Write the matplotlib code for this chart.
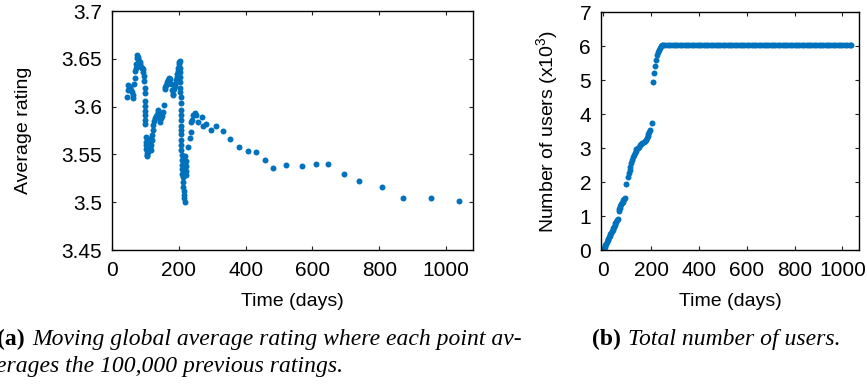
import matplotlib
matplotlib.use("Agg")
import matplotlib.pyplot as plt

plt.rcParams['font.family'] = ['Liberation Sans', 'DejaVu Sans']
plt.rcParams['mathtext.default'] = 'regular'

BLUE = '#0072BD'

# (a) moving global average rating
days_a = [44, 47, 49, 51, 54, 57, 59, 62, 64, 66, 68, 69, 71, 72, 74, 75, 77, 79,
          81, 83, 85, 87, 89, 91, 93, 94, 96, 97, 98, 98, 99, 99, 99, 100, 100, 100,
          101, 101, 102, 103, 104, 105, 106, 107, 108, 109, 110, 112, 114, 116, 118,
          119, 121, 123, 124, 126, 128, 131, 134, 137, 139, 141, 143, 145, 147, 149,
          152, 155, 158, 160, 163, 166, 169, 172, 175, 177, 179, 182, 184, 186, 188,
          190, 192, 194, 196, 198, 199, 200, 202, 203, 204, 204, 204, 205, 205, 205,
          206, 206, 206, 206, 206, 207, 207, 207, 208, 208, 208, 209, 209, 210, 210,
          211, 212, 213, 214, 215, 216, 217, 218, 220, 221, 222, 222, 223, 229, 233,
          236, 238, 241, 244, 249, 253, 259, 269, 273, 283, 298, 313, 331, 353, 381,
          407, 430, 458, 481, 520, 570, 611, 645, 693, 738, 807, 871, 956, 1037]
rating_a = [3.610, 3.618, 3.623, 3.619, 3.621, 3.617, 3.615, 3.612, 3.609, 3.624,
            3.630, 3.637, 3.641, 3.645, 3.651, 3.654, 3.652, 3.650, 3.648, 3.647,
            3.645, 3.642, 3.641, 3.640, 3.639, 3.636, 3.632, 3.627, 3.620, 3.614,
            3.606, 3.601, 3.596, 3.591, 3.586, 3.582, 3.568, 3.563, 3.560, 3.556,
            3.552, 3.549, 3.548, 3.553, 3.557, 3.562, 3.566, 3.563, 3.558, 3.555,
            3.560, 3.565, 3.570, 3.576, 3.581, 3.585, 3.588, 3.590, 3.591, 3.594,
            3.597, 3.592, 3.587, 3.584, 3.588, 3.590, 3.594, 3.602, 3.619, 3.621,
            3.623, 3.626, 3.628, 3.630, 3.629, 3.624, 3.617, 3.613, 3.612, 3.619,
            3.624, 3.622, 3.628, 3.631, 3.634, 3.637, 3.641, 3.645, 3.647, 3.648,
            3.641, 3.636, 3.631, 3.626, 3.620, 3.615, 3.610, 3.604, 3.597, 3.591,
            3.586, 3.580, 3.576, 3.571, 3.565, 3.560, 3.555, 3.549, 3.544, 3.539,
            3.535, 3.530, 3.526, 3.521, 3.516, 3.512, 3.508, 3.504, 3.500, 3.548,
            3.543, 3.538, 3.533, 3.529, 3.558, 3.567, 3.574, 3.584, 3.586, 3.591,
            3.593, 3.591, 3.584, 3.589, 3.580, 3.582, 3.576, 3.580, 3.575, 3.566,
            3.558, 3.554, 3.553, 3.544, 3.536, 3.539, 3.538, 3.540, 3.540, 3.530,
            3.522, 3.516, 3.504, 3.504, 3.501]

# (b) total number of users (x10^3)
days_b = [0, 3, 6, 9, 12, 15, 18, 21, 24, 27, 30, 33, 36, 39, 42, 45, 48, 51, 54,
          57, 60, 64, 66, 69, 72, 75, 78, 81, 84, 87, 90, 96, 103, 106, 110, 113,
          117, 120, 124, 127, 131, 135, 139, 144, 149, 154, 159, 164, 169, 174, 179,
          183, 186, 189, 192, 195, 203, 207, 211, 216, 220, 224, 228, 232, 236, 240,
          245]
users_b = [0.00, 0.05, 0.10, 0.14, 0.19, 0.23, 0.28, 0.32, 0.37, 0.41, 0.46, 0.50,
           0.55, 0.59, 0.64, 0.68, 0.73, 0.78, 0.82, 0.87, 0.92, 1.15, 1.20, 1.25,
           1.30, 1.34, 1.38, 1.42, 1.46, 1.50, 1.53, 1.93, 2.16, 2.27, 2.36, 2.45,
           2.55, 2.64, 2.73, 2.80, 2.86, 2.91, 2.96, 3.00, 3.04, 3.08, 3.11, 3.14,
           3.18, 3.21, 3.25, 3.30, 3.35, 3.41, 3.47, 3.52, 3.74, 4.95, 5.20, 5.42,
           5.58, 5.73, 5.81, 5.89, 5.95, 5.99, 6.02]
plateau_days = [250, 260, 270, 280, 290, 300, 310, 320, 330, 340, 350, 360, 370,
                380, 390, 400, 410, 420, 430, 440, 450, 460, 470, 480, 490, 500,
                510, 520, 530, 540, 550, 560, 570, 580, 590, 600, 610, 620, 630,
                640, 650, 660, 670, 680, 690, 700, 710, 720, 730, 740, 750, 760,
                770, 780, 790, 800, 810, 820, 830, 840, 850, 860, 870, 880, 890,
                900, 910, 920, 930, 940, 950, 960, 970, 980, 990, 1000, 1010, 1020,
                1030, 1035]
plateau_users = 6.03

fig = plt.figure(figsize=(8.67, 3.85), dpi=100)
ax1 = fig.add_axes([0.129, 0.3506, 0.4165, 0.6204])
ax2 = fig.add_axes([0.693, 0.3506, 0.298, 0.6182])

ax1.plot(days_a, rating_a, 'o', color=BLUE, markersize=4.3, markeredgewidth=0)
ax1.set_xlim(0, 1080)
ax1.set_ylim(3.45, 3.7)
ax1.set_xticks([0, 200, 400, 600, 800, 1000])
ax1.set_yticks([3.45, 3.5, 3.55, 3.6, 3.65, 3.7])
ax1.set_yticklabels(['3.45', '3.5', '3.55', '3.6', '3.65', '3.7'])
ax1.set_xlabel('Time (days)', fontsize=14, labelpad=9)
ax1.set_ylabel('Average rating', fontsize=14, labelpad=21)

ax2.plot(days_b, users_b, 'o', color=BLUE, markersize=4.3, markeredgewidth=0)
ax2.plot(plateau_days, [plateau_users] * len(plateau_days), 'o', color=BLUE,
         markersize=4.3, markeredgewidth=0)
ax2.set_xlim(-10, 1070)
ax2.set_ylim(0, 7)
ax2.set_xticks([0, 200, 400, 600, 800, 1000])
ax2.set_yticks(range(0, 8))
ax2.set_xlabel('Time (days)', fontsize=14, labelpad=9)
ax2.set_ylabel('Number of users (x10$^3$)', fontsize=14, labelpad=14)

for ax in (ax1, ax2):
    ax.tick_params(direction='in', length=3, width=0.8, top=True, right=True,
                   labelsize=15, colors='#222222', labelcolor='black')
    ax.tick_params(axis='x', pad=8)
    ax.tick_params(axis='y', pad=7)
    for sp in ax.spines.values():
        sp.set_linewidth(1.0)

# captions
cap = dict(family='Liberation Serif', fontsize=17)
ta = fig.text(-0.003, 1 - 345 / 385, '(a)', fontweight='bold', **cap)
ax1.annotate('Moving global average rating where each point av-', xy=(1, 0),
             xycoords=ta, xytext=(5, 0), textcoords='offset points',
             style='italic', va='bottom', annotation_clip=False, **cap)
fig.text(-0.005, 1 - 372 / 385, 'erages the 100,000 previous ratings.',
         style='italic', **cap)
tb = fig.text(592 / 867, 1 - 345 / 385, '(b)', fontweight='bold', **cap)
ax2.annotate('Total number of users.', xy=(1, 0), xycoords=tb, xytext=(5, 0),
             textcoords='offset points', style='italic', va='bottom',
             annotation_clip=False, **cap)

fig.savefig('out.png', dpi=100)
